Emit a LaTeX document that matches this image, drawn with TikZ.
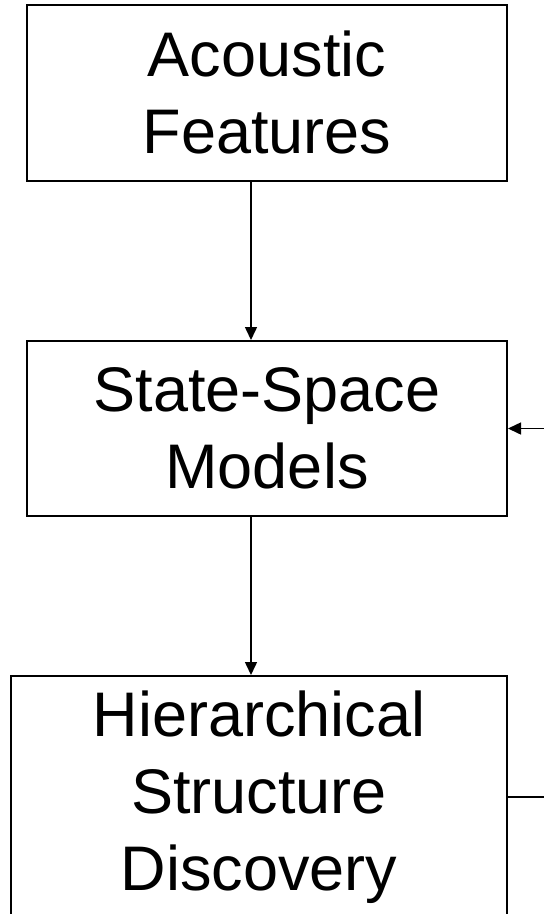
\documentclass[tikz,border=0pt]{standalone}
\usepackage{fontspec}
\setmainfont{Liberation Sans}
\usetikzlibrary{arrows.meta}
\tikzset{
  stagebox/.style={draw, line width=2pt, inner sep=0pt, align=center,
    font=\fontsize{63}{77}\selectfont},
  flow/.style={line width=1.5pt, -{Triangle[length=13pt,width=12pt]}},
  plain/.style={line width=1.5pt}
}
\begin{document}
\begin{tikzpicture}[x=1pt,y=-1pt]
  \useasboundingbox (0,0) rectangle (544,914);
  \node[stagebox, minimum width=480pt, minimum height=176.5pt] (feat) at (267,92.75) {Acoustic\\Features};
  \node[stagebox, minimum width=480pt, minimum height=175pt] (ssm) at (267,428.5) {State-Space\\Models};
  \node[stagebox, minimum width=496pt, minimum height=242pt] (hsd) at (259,797) {Hierarchical\\Structure\\Discovery};
  % feedback leads running off the right edge
  \coordinate (fbin) at (544,428.5);
  \coordinate (fbout) at (544,797);
  \draw[flow] ([xshift=-16pt]feat.south) -- ([xshift=-16pt]feat.south |- ssm.north);
  \draw[flow] ([xshift=-16pt]ssm.south) -- ([xshift=-16pt]ssm.south |- hsd.north);
  \draw[flow] (fbin) -- (ssm.east);
  \draw[plain] (hsd.east) -- (fbout);
\end{tikzpicture}
\end{document}
